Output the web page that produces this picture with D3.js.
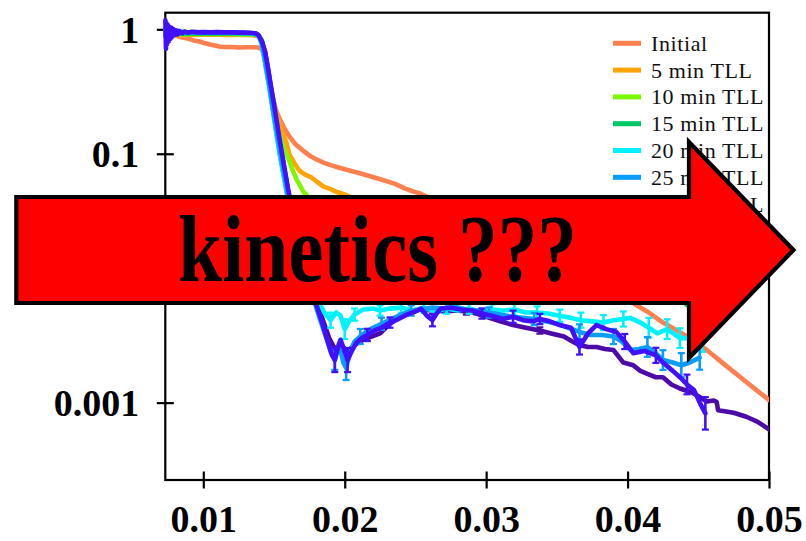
<!DOCTYPE html>
<html>
<head>
<meta charset="utf-8">
<script src="https://cdn.jsdelivr.net/npm/d3@7"></script>
<style>
  html, body { margin: 0; padding: 0; background: #fff; }
  svg { display: block; }
</style>
</head>
<body>
<svg id="chart" width="806" height="541"></svg>
<script>
// Survival fraction vs. q for successive TLL exposures. Points are [x, y] or [x, y, relErr].
const seriesNames = ["Initial", "5 min TLL", "10 min TLL", "15 min TLL", "20 min TLL", "25 min TLL", "30 min TLL", "35 min TLL"];
const seriesColors = ["#ff7f4f", "#ffa400", "#7cf800", "#00c864", "#00f2ff", "#0a9cff", "#4010ff", "#4c0aa8"];

const initial = [[0.00732,0.99],[0.00745,0.95],[0.0076,0.97],[0.0078,0.92],[0.0080,0.90],[0.0082,0.88],[0.0085,0.86],[0.0088,0.85],[0.0091,0.83],[0.0094,0.81],[0.0097,0.80],[0.0100,0.78],[0.0104,0.76],[0.0108,0.74],[0.0112,0.725],[0.0116,0.72],[0.0120,0.72],[0.0125,0.715],[0.0130,0.717],[0.0135,0.718],[0.0139,0.715],[0.01415,0.69],[0.0143,0.60],[0.01445,0.47],[0.0146,0.38],[0.0148,0.30],[0.0150,0.25],[0.0152,0.215],[0.0155,0.18],[0.0158,0.155],[0.0161,0.137],[0.0165,0.12],[0.0170,0.107],[0.0175,0.097],[0.0180,0.09],[0.0185,0.085],[0.0190,0.081],[0.0195,0.078],[0.0200,0.075],[0.0206,0.072],[0.0212,0.069],[0.0218,0.066],[0.0224,0.063],[0.0230,0.060],[0.0236,0.057],[0.0242,0.053],[0.0248,0.050],[0.0253,0.048],[0.0260,0.044],[0.0268,0.040],[0.0275,0.037],[0.0285,0.033],[0.0296,0.0285],[0.0305,0.025],[0.0317,0.0214],[0.0328,0.0188],[0.0338,0.0161],[0.0348,0.0142],[0.0359,0.0121],[0.0370,0.0105],[0.0381,0.0090],[0.0393,0.0075],[0.0404,0.0063],[0.0415,0.0053],[0.0425,0.0044],[0.0435,0.0038],[0.0444,0.0033],[0.0456,0.00265],[0.0468,0.00205],[0.0480,0.00159],[0.0490,0.00129],[0.0500,0.00105]];

const tll5 = [[0.00732,0.93],[0.0075,0.88],[0.0078,0.9],[0.0082,0.89],[0.0086,0.9],[0.0090,0.91],[0.0095,0.9],[0.0100,0.91],[0.0105,0.905],[0.0110,0.91],[0.0115,0.9],[0.0120,0.905],[0.0125,0.9],[0.0130,0.9],[0.0135,0.895],[0.0139,0.88],[0.01415,0.80],[0.0143,0.66],[0.0145,0.50],[0.0147,0.38],[0.0149,0.29],[0.0152,0.21],[0.0155,0.16],[0.01585,0.125],[0.0161,0.098],[0.0165,0.082],[0.0168,0.073],[0.0172,0.068],[0.0176,0.065],[0.0180,0.060],[0.0185,0.0545],[0.0190,0.052],[0.0195,0.049],[0.0200,0.047],[0.021,0.042],[0.022,0.038],[0.024,0.033],[0.026,0.029],[0.028,0.025],[0.030,0.022],[0.032,0.019],[0.034,0.016],[0.036,0.014],[0.038,0.012],[0.040,0.0098],[0.042,0.0082],[0.0445,0.0066]];

const tll10 = [[0.00732,0.9],[0.0076,0.94],[0.0079,0.91],[0.0083,0.92],[0.0088,0.91],[0.0093,0.92],[0.0098,0.915],[0.0104,0.92],[0.0110,0.915],[0.0116,0.92],[0.0122,0.915],[0.0128,0.91],[0.0134,0.91],[0.0138,0.9],[0.01415,0.82],[0.0143,0.68],[0.0145,0.5],[0.0147,0.36],[0.0149,0.26],[0.0151,0.19],[0.0154,0.14],[0.0157,0.11],[0.0160,0.092],[0.0163,0.075],[0.0166,0.062],[0.0169,0.054],[0.01705,0.050],[0.0175,0.044],[0.018,0.039],[0.019,0.033],[0.020,0.029],[0.022,0.024],[0.024,0.020],[0.026,0.018],[0.028,0.016],[0.030,0.0145],[0.032,0.013],[0.034,0.0115],[0.036,0.010],[0.038,0.0088],[0.040,0.0078],[0.042,0.0072],[0.0440,0.0066],[0.0450,0.0058]];

const tll15 = [[0.00732,0.95],[0.0075,0.9],[0.0077,0.96],[0.0079,0.91],[0.0082,0.94],[0.0086,0.92],[0.0090,0.93],[0.0095,0.925],[0.0100,0.93],[0.0106,0.925],[0.0112,0.93],[0.0118,0.925],[0.0124,0.93],[0.0130,0.92],[0.0135,0.92],[0.01385,0.9],[0.0141,0.82],[0.01425,0.70],[0.0144,0.56],[0.0146,0.40],[0.0148,0.28],[0.0150,0.2],[0.0152,0.14],[0.0154,0.1],[0.0156,0.075],[0.0158,0.058],[0.0160,0.046],[0.0163,0.035],[0.0167,0.026],[0.0172,0.02],[0.018,0.016],[0.019,0.013],[0.021,0.0115],[0.023,0.0105],[0.025,0.0098],[0.027,0.0092],[0.029,0.0088],[0.031,0.0083],[0.033,0.0079],[0.035,0.0075],[0.037,0.0072],[0.039,0.0069],[0.041,0.0067],[0.043,0.0066],[0.0440,0.0064],[0.0452,0.0048]];

const tll20 = [[0.00732,1.02],[0.0074,0.85],[0.00755,1.05],[0.0077,0.9],[0.0079,0.98],[0.0081,0.93],[0.0084,0.96],[0.0087,0.94],[0.0091,0.95],[0.0095,0.94],[0.0100,0.945],[0.0105,0.94],[0.0110,0.945],[0.0115,0.94],[0.0120,0.94],[0.0125,0.935],[0.0130,0.935],[0.0134,0.93],[0.0137,0.92],[0.01395,0.87],[0.0141,0.78],[0.0143,0.6],[0.0145,0.44],[0.0147,0.32],[0.0149,0.23],[0.0151,0.165],[0.0153,0.12],[0.0155,0.088],[0.0157,0.065],[0.0159,0.048],[0.0162,0.033],[0.0166,0.021],[0.0171,0.0135],[0.0176,0.0092],[0.0181,0.0066],[0.0186,0.0052],[0.0190,0.0046,0.15],[0.0194,0.0053],[0.0197,0.0050],[0.0200,0.0039,0.2],[0.0203,0.0045],[0.0207,0.0051,0.12],[0.0213,0.0056],[0.0220,0.0057],[0.0225,0.0055,0.1],[0.0232,0.0057],[0.0240,0.0058,0.1],[0.0248,0.0055],[0.0256,0.0058,0.1],[0.0264,0.0054],[0.0272,0.0057,0.1],[0.0280,0.0055],[0.0288,0.0057,0.1],[0.0296,0.0054],[0.0304,0.0056,0.1],[0.0312,0.0055],[0.0320,0.0056,0.12],[0.0328,0.0053],[0.0336,0.0053,0.12],[0.0344,0.0052],[0.0352,0.0050,0.12],[0.0360,0.0048],[0.0367,0.0046,0.15],[0.0375,0.0045],[0.0383,0.0044,0.15],[0.0390,0.0046],[0.0397,0.0047,0.15],[0.0402,0.0048],[0.0409,0.0044],[0.0415,0.0040,0.2],[0.0421,0.0036],[0.0428,0.0039,0.2],[0.0437,0.0033,0.2],[0.0444,0.0033],[0.0453,0.0032,0.25]];

const tll25 = [[0.00732,0.88],[0.0074,1.08],[0.00752,0.86],[0.00765,1.02],[0.0078,0.9],[0.008,0.97],[0.0083,0.93],[0.0086,0.955],[0.009,0.94],[0.0095,0.95],[0.0100,0.94],[0.0105,0.945],[0.0110,0.94],[0.0115,0.945],[0.0120,0.94],[0.0125,0.94],[0.0130,0.935],[0.0134,0.935],[0.0137,0.925],[0.01395,0.88],[0.0141,0.8],[0.0143,0.63],[0.0145,0.46],[0.0147,0.34],[0.0149,0.24],[0.0151,0.175],[0.0153,0.128],[0.0155,0.094],[0.0157,0.07],[0.0159,0.052],[0.0161,0.039],[0.0164,0.027],[0.0168,0.017],[0.0173,0.0105],[0.0178,0.0068],[0.0183,0.0045],[0.0187,0.0033],[0.0190,0.0026],[0.0193,0.0022,0.2],[0.0196,0.0030],[0.0199,0.0021],[0.0201,0.0019,0.25],[0.0204,0.0026],[0.0207,0.0031],[0.0211,0.0034,0.15],[0.0215,0.0037],[0.0220,0.0040],[0.0226,0.0043,0.12],[0.0233,0.0047],[0.0240,0.0051],[0.0247,0.0055,0.1],[0.0254,0.0056],[0.0262,0.0058],[0.0270,0.0057],[0.0278,0.0059],[0.0286,0.0056],[0.0294,0.0055],[0.0302,0.0053,0.1],[0.0310,0.0051],[0.0318,0.0049],[0.0326,0.0048],[0.0334,0.0047,0.12],[0.0342,0.0045],[0.0350,0.0043],[0.0358,0.0040],[0.0366,0.0037,0.15],[0.0374,0.0035],[0.0382,0.0035],[0.0390,0.0034,0.15],[0.0396,0.0031],[0.0402,0.00265],[0.0408,0.0027],[0.0414,0.0028,0.2],[0.0420,0.0025],[0.0425,0.0022,0.2],[0.0432,0.0021],[0.0438,0.0020,0.25],[0.0444,0.0021],[0.0451,0.0023,0.25]];

const tll30 = [[0.00732,1.18],[0.00736,0.7],[0.0074,1.12],[0.00745,0.76],[0.0075,1.08],[0.00756,0.8],[0.0076,1.05],[0.00768,0.84],[0.00775,1.03],[0.0078,0.87],[0.0079,1.0],[0.008,0.9],[0.0081,0.98],[0.0082,0.91],[0.0083,0.97],[0.0085,0.93],[0.0087,0.96],[0.0089,0.94],[0.0092,0.955],[0.0096,0.945],[0.0100,0.95],[0.0105,0.945],[0.0110,0.95],[0.0115,0.945],[0.0120,0.945],[0.0125,0.94],[0.0130,0.94],[0.0134,0.935],[0.0137,0.93],[0.0139,0.9],[0.01415,0.8],[0.01437,0.66],[0.0146,0.47],[0.0148,0.34],[0.0150,0.25],[0.0152,0.18],[0.0154,0.13],[0.0156,0.095],[0.0158,0.07],[0.0160,0.052],[0.0162,0.04],[0.0165,0.027],[0.0169,0.017],[0.0174,0.0105],[0.0179,0.0066],[0.0184,0.0044],[0.0188,0.0031],[0.0191,0.0024],[0.0193,0.0022,0.25],[0.0195,0.0027],[0.0197,0.0032],[0.01995,0.0027],[0.0202,0.0022,0.25],[0.0205,0.0026],[0.0208,0.0030],[0.0212,0.0033],[0.0216,0.0035,0.12],[0.0221,0.0038],[0.0226,0.0040],[0.0232,0.0044,0.1],[0.0238,0.0047],[0.0244,0.0051],[0.0250,0.0054],[0.0254,0.0057],[0.0258,0.0050],[0.0262,0.0046,0.12],[0.0265,0.0052],[0.0268,0.0057],[0.0275,0.0058],[0.0282,0.0056],[0.0290,0.0055],[0.0297,0.0052,0.1],[0.0304,0.0050],[0.0312,0.0047],[0.0319,0.0049,0.12],[0.0326,0.0046],[0.0333,0.0045],[0.0338,0.0047,0.1],[0.0345,0.0045],[0.0352,0.0042],[0.0360,0.0040],[0.0366,0.0028,0.15],[0.0372,0.0036],[0.0378,0.0042],[0.0385,0.0039],[0.0392,0.0037],[0.0398,0.0031,0.15],[0.0404,0.0025],[0.0412,0.0026],[0.0420,0.0024,0.15],[0.0425,0.0021],[0.0432,0.0018],[0.0437,0.0016],[0.0442,0.0014,0.2],[0.0447,0.00126],[0.0451,0.0010],[0.0455,0.00082,0.35]];

const tll35 = [[0.00732,0.96],[0.0075,0.9],[0.0077,0.95],[0.008,0.92],[0.0084,0.94],[0.009,0.935],[0.0096,0.94],[0.0103,0.935],[0.0110,0.94],[0.0117,0.935],[0.0124,0.935],[0.0130,0.93],[0.0135,0.925],[0.0139,0.89],[0.01415,0.79],[0.01437,0.65],[0.0146,0.46],[0.0148,0.33],[0.0150,0.24],[0.0152,0.175],[0.0154,0.127],[0.0156,0.093],[0.0158,0.068],[0.0160,0.05],[0.0163,0.034],[0.0167,0.021],[0.0172,0.013],[0.0178,0.0078],[0.0184,0.0048],[0.0189,0.0033],[0.0193,0.0027],[0.0197,0.0029],[0.0202,0.0026],[0.0207,0.0029],[0.0213,0.0032],[0.0219,0.0034],[0.0225,0.0036],[0.0232,0.0043],[0.0239,0.0049],[0.0246,0.0053],[0.0253,0.0056],[0.0262,0.0055],[0.0272,0.0054],[0.0279,0.0055],[0.0286,0.0054,0.06],[0.0293,0.0052],[0.0300,0.0049],[0.0310,0.0045],[0.0319,0.0042],[0.0328,0.0040],[0.0338,0.0038,0.06],[0.0346,0.0036],[0.0355,0.0034],[0.0361,0.0031],[0.0366,0.0029],[0.0372,0.0028],[0.0378,0.0028],[0.0384,0.0027],[0.0390,0.00265],[0.0397,0.0021],[0.0404,0.0020],[0.0409,0.0018],[0.0414,0.0017],[0.0420,0.0016],[0.0425,0.0016],[0.0431,0.0014],[0.0437,0.0013],[0.0446,0.0012],[0.0456,0.00102],[0.0461,0.00104],[0.0463,0.00101],[0.0464,0.00087],[0.0475,0.00083],[0.0484,0.00077],[0.0492,0.00070],[0.0500,0.00061]];

const seriesData = [initial, tll5, tll10, tll15, tll20, tll25, tll30, tll35];
// The longest exposure is drawn underneath the others.
const drawOrder = [7, 0, 1, 2, 3, 4, 5, 6];

const xTicks = [0.01, 0.02, 0.03, 0.04, 0.05];
const xTickLabels = ["0.01", "0.02", "0.03", "0.04", "0.05"];
const yTicks = [1, 0.1, 0.01, 0.001];
const yTickLabels = ["1", "0.1", "0.01", "0.001"];
const xDomain = [0.007313, 0.05];
const yDomain = [0.000239, 1.36];

const bannerText = "kinetics ???";

// ---- layout ----
const plot = { left: 165.3, right: 769, top: 12.7, bottom: 480 };

const svg = d3.select("#chart");
svg.append("rect").attr("width", 806).attr("height", 541).attr("fill", "#fff");

const x = d3.scaleLinear().domain(xDomain).range([plot.left, plot.right]);
const y = d3.scaleLog().domain(yDomain).range([plot.bottom, plot.top]);

// frame
svg.append("rect")
  .attr("x", plot.left).attr("y", plot.top)
  .attr("width", plot.right - plot.left).attr("height", plot.bottom - plot.top)
  .attr("fill", "none").attr("stroke", "#000").attr("stroke-width", 2.2);

// axes: ticks cross the frame line
const xAxis = d3.axisBottom(x).tickValues(xTicks).tickSize(17).tickFormat((d, i) => xTickLabels[i]);
const gx = svg.append("g").attr("transform", `translate(0,${plot.bottom - 8.5})`).call(xAxis);
gx.select(".domain").remove();
gx.selectAll(".tick line").attr("stroke", "#000").attr("stroke-width", 2.2);
gx.selectAll(".tick text")
  .attr("y", 60).attr("dy", 0)
  .attr("font-family", "'Liberation Serif', 'Times New Roman', serif")
  .attr("font-weight", "bold").attr("font-size", 38).attr("fill", "#000");

const yAxis = d3.axisLeft(y).tickValues(yTicks).tickSize(17).tickFormat((d, i) => yTickLabels[i]);
const gy = svg.append("g").attr("transform", `translate(${plot.left + 8.5},0)`).call(yAxis);
gy.select(".domain").remove();
gy.selectAll(".tick line").attr("stroke", "#000").attr("stroke-width", 2.2);
gy.selectAll(".tick text")
  .attr("x", -34.5).attr("dy", 13)
  .attr("font-family", "'Liberation Serif', 'Times New Roman', serif")
  .attr("font-weight", "bold").attr("font-size", 38).attr("fill", "#000");

// data lines
svg.append("clipPath").attr("id", "plotClip")
  .append("rect").attr("x", plot.left - 3).attr("y", plot.top - 3)
  .attr("width", plot.right - plot.left + 3).attr("height", plot.bottom - plot.top + 6);

const gLines = svg.append("g").attr("clip-path", "url(#plotClip)");
const line = d3.line().x(d => x(d[0])).y(d => y(d[1]));

drawOrder.forEach(i => {
  const pts = seriesData[i];
  const color = seriesColors[i];
  const g = gLines.append("g");
  g.append("path").datum(pts)
    .attr("d", line).attr("fill", "none")
    .attr("stroke", color).attr("stroke-width", 4.6)
    .attr("stroke-linejoin", "round").attr("stroke-linecap", "round");
  const errPts = pts.filter(d => d.length > 2);
  g.selectAll("line.err").data(errPts).join("line")
    .attr("x1", d => x(d[0])).attr("x2", d => x(d[0]))
    .attr("y1", d => y(d[1] * (1 + d[2]))).attr("y2", d => y(d[1] / (1 + d[2])))
    .attr("stroke", color).attr("stroke-width", 2.6);
  g.selectAll("line.capHi").data(errPts).join("line")
    .attr("x1", d => x(d[0]) - 3.5).attr("x2", d => x(d[0]) + 3.5)
    .attr("y1", d => y(d[1] * (1 + d[2]))).attr("y2", d => y(d[1] * (1 + d[2])))
    .attr("stroke", color).attr("stroke-width", 2.2);
  g.selectAll("line.capLo").data(errPts).join("line")
    .attr("x1", d => x(d[0]) - 3.5).attr("x2", d => x(d[0]) + 3.5)
    .attr("y1", d => y(d[1] / (1 + d[2]))).attr("y2", d => y(d[1] / (1 + d[2])))
    .attr("stroke", color).attr("stroke-width", 2.2);
});

// legend
const legend = svg.append("g").attr("transform", "translate(613,43.3)");
seriesNames.forEach((name, i) => {
  const row = legend.append("g").attr("transform", `translate(0,${i * 26.8})`);
  row.append("line").attr("x1", 0).attr("x2", 28).attr("y1", 0).attr("y2", 0)
    .attr("stroke", seriesColors[i]).attr("stroke-width", 5);
  row.append("text").attr("x", 38).attr("y", 7.5)
    .attr("font-family", "'Liberation Serif', 'Times New Roman', serif")
    .attr("font-size", 22).attr("letter-spacing", 0.6).attr("fill", "#111")
    .text(name);
});

// banner arrow over the chart
const arrowPts = [[16.3, 197], [689, 197], [689, 142], [793.5, 250], [689, 358], [689, 303], [16.3, 303]];
svg.append("polygon")
  .attr("points", arrowPts.map(p => p.join(",")).join(" "))
  .attr("fill", "#ff0000").attr("stroke", "#000").attr("stroke-width", 4.2)
  .attr("stroke-linejoin", "miter");

svg.append("text")
  .attr("x", 178).attr("y", 281)
  .attr("font-family", "'Liberation Serif', 'Times New Roman', serif")
  .attr("font-weight", "bold").attr("font-size", 96)
  .attr("textLength", 399).attr("lengthAdjust", "spacingAndGlyphs")
  .attr("fill", "#000")
  .text(bannerText);
</script>
</body>
</html>
